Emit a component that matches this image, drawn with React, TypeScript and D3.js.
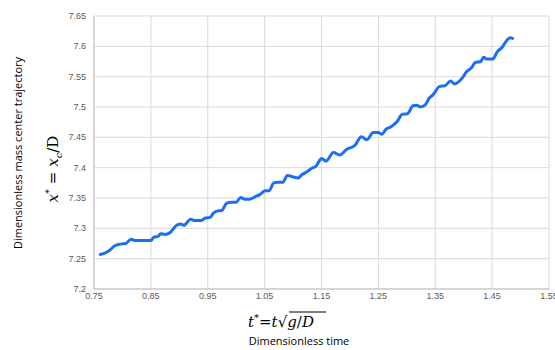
import React from "react";
import * as d3 from "d3";

// dimensionless time t* and mass centre x*
const timeValues = [
  0.761, 0.773, 0.779, 0.786, 0.797, 0.806, 0.815, 0.822, 0.832, 0.85, 0.855, 0.863, 0.867, 0.876, 0.885,
  0.894, 0.902, 0.908, 0.92, 0.926, 0.938, 0.946, 0.954, 0.96, 0.969, 0.974, 0.983, 0.992, 1.0, 1.008,
  1.015, 1.023, 1.033, 1.042, 1.051, 1.058, 1.066, 1.074, 1.082, 1.09, 1.099, 1.109, 1.115, 1.124, 1.133,
  1.14, 1.146, 1.15, 1.158, 1.171, 1.182, 1.194, 1.209, 1.22, 1.23, 1.241, 1.25, 1.256, 1.263, 1.273,
  1.283, 1.292, 1.301, 1.311, 1.317, 1.324, 1.332, 1.339, 1.346, 1.358, 1.367, 1.377, 1.384, 1.396, 1.405,
  1.414, 1.42, 1.43, 1.435, 1.44, 1.451, 1.459, 1.468, 1.476, 1.482, 1.486,
];
const centerX = [
  7.257, 7.261, 7.265, 7.271, 7.274, 7.275, 7.282, 7.28, 7.28, 7.28, 7.285, 7.287, 7.291, 7.29, 7.294,
  7.304, 7.307, 7.305, 7.315, 7.313, 7.313, 7.317, 7.318, 7.325, 7.329, 7.329, 7.341, 7.343, 7.343, 7.351,
  7.348, 7.348, 7.352, 7.356, 7.362, 7.362, 7.375, 7.376, 7.376, 7.387, 7.385, 7.383, 7.388, 7.393, 7.399,
  7.402, 7.411, 7.415, 7.411, 7.425, 7.421, 7.43, 7.437, 7.451, 7.446, 7.458, 7.458, 7.455, 7.463, 7.468,
  7.476, 7.488, 7.489, 7.502, 7.503, 7.5, 7.503, 7.514, 7.52, 7.534, 7.535, 7.543, 7.538, 7.546, 7.558,
  7.565, 7.573, 7.575, 7.582, 7.579, 7.579, 7.591, 7.599, 7.61, 7.614, 7.613,
];

const xTicks = ["0.75", "0.85", "0.95", "1.05", "1.15", "1.25", "1.35", "1.45", "1.55"];
const yTicks = ["7.2", "7.25", "7.3", "7.35", "7.4", "7.45", "7.5", "7.55", "7.6", "7.65"];

const width = 555;
const height = 350;
const marginLeft = 94;
const marginRight = 6;
const marginTop = 16;
const marginBottom = 61;

const tickFont = "'Liberation Sans', Arial, sans-serif";
const titleFont = "'Open Sans', 'Liberation Sans', sans-serif";
const mathFont = "'DejaVu Serif', 'Liberation Serif', serif";

export default function App() {
  const x = d3.scaleLinear().domain([0.75, 1.55]).range([marginLeft, width - marginRight]);
  const y = d3.scaleLinear().domain([7.2, 7.65]).range([height - marginBottom, marginTop]);

  const pts: [number, number][] = timeValues.map((t, i) => [t, centerX[i]]);
  const line = d3
    .line<[number, number]>()
    .x((d) => x(d[0]))
    .y((d) => y(d[1]))
    .curve(d3.curveMonotoneX);

  const grid = "#d9d9d9";
  const label = "#595959";

  return (
    <svg
      width={width}
      height={height}
      style={{ position: "absolute", left: 0, top: 0, background: "#fff" }}
    >
      {/* grid */}
      {yTicks.map((t) => (
        <line key={"gy" + t} x1={x(0.75)} x2={x(1.55)} y1={y(+t)} y2={y(+t)} stroke={grid} strokeWidth={1} />
      ))}
      {xTicks.map((t) => (
        <line key={"gx" + t} x1={x(+t)} x2={x(+t)} y1={y(7.2)} y2={y(7.65)} stroke={grid} strokeWidth={1} />
      ))}
      <line x1={x(0.75)} x2={x(0.75)} y1={y(7.2)} y2={y(7.65)} stroke="#bfbfbf" />
      <line x1={x(0.75)} x2={x(1.55)} y1={y(7.2)} y2={y(7.2)} stroke="#bfbfbf" />

      {/* tick labels */}
      {yTicks.map((t) => (
        <text key={"ty" + t} x={86} y={y(+t)} dy="0.35em" textAnchor="end" fontSize={9} fill={label} fontFamily={tickFont}>
          {t}
        </text>
      ))}
      {xTicks.map((t) => (
        <text key={"tx" + t} x={x(+t)} y={299} textAnchor="middle" fontSize={9} fill={label} fontFamily={tickFont}>
          {t}
        </text>
      ))}

      {/* data */}
      <path d={line(pts) ?? ""} fill="none" stroke="#1c6ef2" strokeWidth={3} strokeLinejoin="round" strokeLinecap="round" />

      {/* x axis titles */}
      <text x={248} y={327} fontFamily={mathFont} fontSize={15} fill="#000">
        <tspan fontStyle="italic">t</tspan>
        <tspan fontSize={10} dy={-6}>*</tspan>
        <tspan dy={6}>=</tspan>
        <tspan fontStyle="italic">t</tspan>
        <tspan>√</tspan>
        <tspan fontStyle="italic">g</tspan>
        <tspan>/</tspan>
        <tspan fontStyle="italic">D</tspan>
      </text>
      <line x1={289} x2={326} y1={312} y2={312} stroke="#000" strokeWidth={1} />
      <text x={299} y={345} textAnchor="middle" fontFamily={titleFont} fontSize={11} fill="#000">
        Dimensionless time
      </text>

      {/* y axis titles */}
      <text transform="translate(22,153) rotate(-90)" textAnchor="middle" fontFamily={titleFont} fontSize={11} fill="#000">
        Dimensionless mass center trajectory
      </text>
      <text transform="translate(58,169) rotate(-90)" textAnchor="middle" fontFamily={mathFont} fontSize={15} fill="#000">
        <tspan fontStyle="italic">x</tspan>
        <tspan fontSize={10} dy={-6}>*</tspan>
        <tspan dy={6}> = </tspan>
        <tspan fontStyle="italic">x</tspan>
        <tspan fontStyle="italic" fontSize={10} dy={4}>c</tspan>
        <tspan dy={-4}>/D</tspan>
      </text>
    </svg>
  );
}
